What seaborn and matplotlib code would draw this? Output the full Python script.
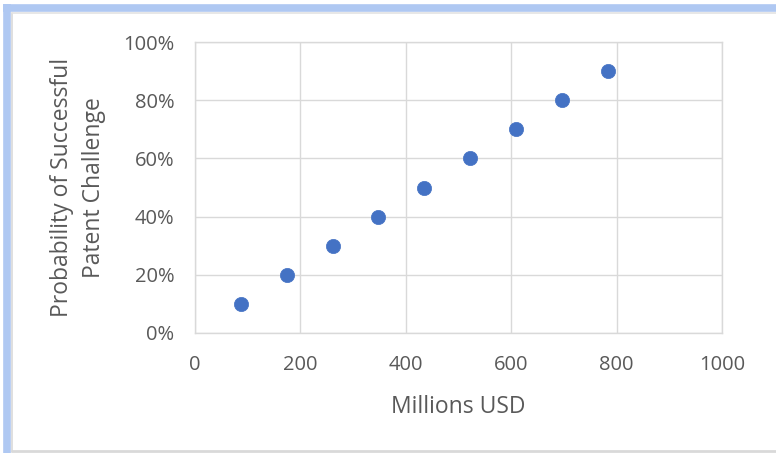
import matplotlib
matplotlib.use("Agg")
import matplotlib.pyplot as plt
import seaborn as sns
import pandas as pd
from matplotlib.lines import Line2D
from matplotlib.ticker import FuncFormatter

millions_usd = [87, 174, 261, 348, 435, 522, 609, 696, 783]
probability = [0.10, 0.20, 0.30, 0.40, 0.50, 0.60, 0.70, 0.80, 0.90]
x_ticks = [0, 200, 400, 600, 800, 1000]
y_ticks = [0.0, 0.2, 0.4, 0.6, 0.8, 1.0]

df = pd.DataFrame({"x": millions_usd, "y": probability})

sns.set_style("white")
plt.rcParams["font.family"] = ["Open Sans", "DejaVu Sans"]

W, H = 776, 453
fig = plt.figure(figsize=(W / 100, H / 100), dpi=100)


def fx(p):
    return p / W


def fy(p):
    return 1 - p / H


# frame: blue glow on left/top, thin gray border
fig.add_artist(Line2D([fx(7), fx(7)], [fy(4), fy(453)], color="#AFC8F2",
                      lw=5.5, transform=fig.transFigure, solid_capstyle="butt"))
fig.add_artist(Line2D([fx(3), fx(776)], [fy(8), fy(8)], color="#AFC8F2",
                      lw=5.5, transform=fig.transFigure, solid_capstyle="butt"))
fig.add_artist(Line2D([fx(11.5), fx(11.5)], [fy(13), fy(452)], color="#D9D9D9",
                      lw=1.2, transform=fig.transFigure))
fig.add_artist(Line2D([fx(11.5), fx(776)], [fy(12.5), fy(12.5)], color="#E3E3E3",
                      lw=1.2, transform=fig.transFigure))
fig.add_artist(Line2D([fx(11.5), fx(776)], [fy(451), fy(451)], color="#D9D9D9",
                      lw=2, transform=fig.transFigure))

ax = fig.add_axes([fx(195), fy(333), fx(722) - fx(195), fy(42) - fy(333)])
ax.set_facecolor("none")
sns.scatterplot(data=df, x="x", y="y", ax=ax, color="#4472C4", s=105,
                edgecolor="#4472C4", linewidth=0.5, zorder=3)

ax.set_xlim(0, 1000)
ax.set_ylim(0, 1.0)
ax.set_xticks(x_ticks)
ax.set_yticks(y_ticks)
ax.yaxis.set_major_formatter(FuncFormatter(lambda v, p: f"{v*100:.0f}%"))
ax.grid(True, color="#D9D9D9", linewidth=1)
for s in ax.spines.values():
    s.set_color("#D9D9D9")
    s.set_linewidth(1)
ax.tick_params(axis="x", length=0, labelsize=14.5, labelcolor="#595959", pad=16)
ax.tick_params(axis="y", length=0, labelsize=14.5, labelcolor="#595959", pad=15)
ax.set_xlabel("Millions USD", fontsize=16.5, color="#595959", labelpad=14)
ax.set_ylabel("Probability of Successful\nPatent Challenge", fontsize=16.5,
              color="#595959", labelpad=12, linespacing=1.45)

fig.savefig("out.png", dpi=100)
